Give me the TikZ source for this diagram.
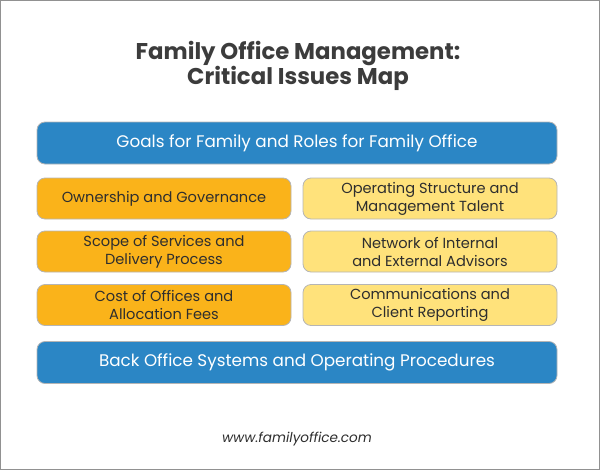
\documentclass[tikz,border=0pt]{standalone}
\usepackage{fontspec}
\setmainfont{Poppins}
\usetikzlibrary{positioning}
\definecolor{blueA}{HTML}{2B86C5}
\definecolor{orangeA}{HTML}{FAB31A}
\definecolor{yellowA}{HTML}{FFE27B}
\definecolor{txtA}{HTML}{2E2E2E}
\definecolor{titleA}{HTML}{3C3C3C}
\definecolor{edgeA}{HTML}{B5B5B5}
\tikzset{
  wide/.style={draw=edgeA, line width=0.8pt, fill=blueA, rounded corners=8pt,
    minimum width=520pt, minimum height=42pt, text=white, font=\fontsize{16.8}{20}\selectfont, align=center},
  half/.style={draw=edgeA, line width=0.8pt, rounded corners=8pt,
    minimum width=254pt, minimum height=41pt, text=txtA, font=\fontsize{14.6}{18}\selectfont, align=center},
  orangebox/.style={half, fill=orangeA},
  yellowbox/.style={half, fill=yellowA},
}
\begin{document}
\begin{tikzpicture}[x=1pt,y=-1pt]
\useasboundingbox (0,0) rectangle (600,472);
\draw[draw=edgeA!80!black, line width=1pt] (0.5,0.5) rectangle (599.5,469.5);
\node[font=\bfseries\fontsize{22.8}{25}\selectfont, text=titleA, align=center] (title) at (298,66) {Family Office Management:\\Critical Issues Map};
\node[wide] (goals) at (297,143) {Goals for Family and Roles for Family Office};
\node[orangebox] (own) at (164,198.5) {Ownership and Governance};
\node[yellowbox] (opstr) at (430,198.5) {Operating Structure and\\Management Talent};
\node[orangebox] (scope) at (164,251.5) {Scope of Services and\\Delivery Process};
\node[yellowbox] (netw) at (430,251.5) {Network of Internal\\and External Advisors};
\node[orangebox] (cost) at (164,305) {Cost of Offices and\\Allocation Fees};
\node[yellowbox] (comm) at (430,305) {Communications and\\Client Reporting};
\node[wide] (back) at (297,362.5) {Back Office Systems and Operating Procedures};
\node[font=\itshape\fontsize{13.6}{16}\selectfont, text=txtA] (url) at (297,439) {www.familyoffice.com};
\end{tikzpicture}
\end{document}
